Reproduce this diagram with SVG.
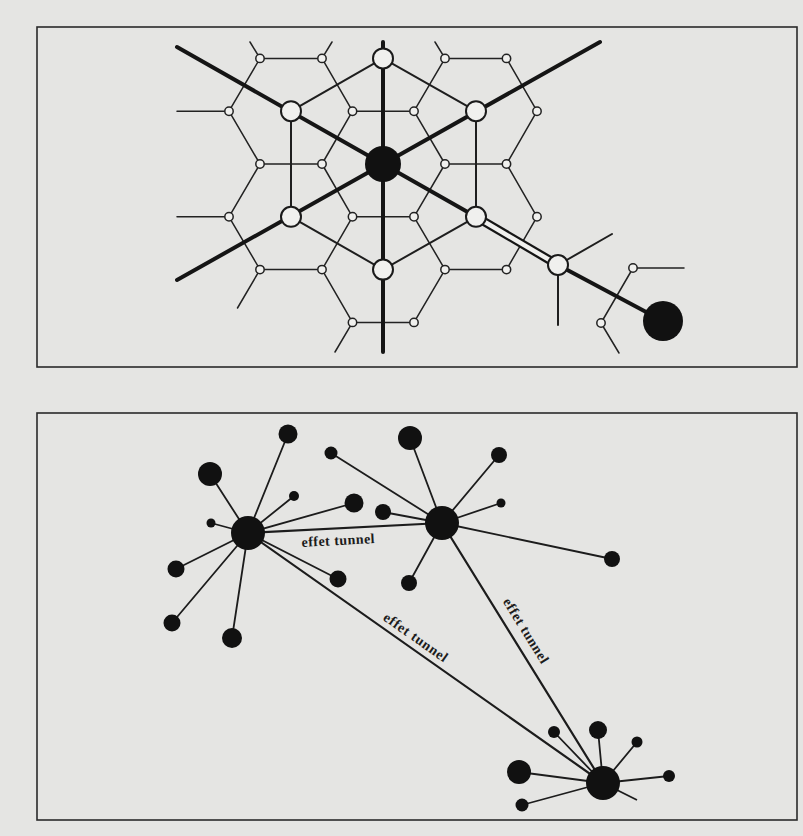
<svg xmlns="http://www.w3.org/2000/svg" width="803" height="836" viewBox="0 0 803 836">
<style>
.bg{fill:#e5e5e3}
.frame{fill:none;stroke:#2a2a2a;stroke-width:1.6}
.thin{stroke:#222;stroke-width:1.5;fill:none;stroke-linecap:round}
.med{stroke:#1e1e1e;stroke-width:2;fill:none;stroke-linecap:round}
.thick{stroke:#151515;stroke-width:4;fill:none;stroke-linecap:round}
.sn{fill:#f0f0ee;stroke:#222;stroke-width:1.5}
.wn{fill:#f0f0ee;stroke:#1a1a1a;stroke-width:2}
.bn{fill:#111}
.ln{stroke:#1c1c1c;stroke-width:1.8;fill:none}
.tn{stroke:#1c1c1c;stroke-width:2.2;fill:none}
.lbl{font-family:"Liberation Serif",serif;font-size:14px;font-weight:bold;fill:#1c1c1c}
</style>
<rect class="bg" x="0" y="0" width="803" height="836"/>
<rect class="frame" x="37" y="27" width="760" height="340"/>
<rect class="frame" x="37" y="413" width="760" height="407"/>

<!-- TOP DIAGRAM -->
<g id="connectors-top">
  <path class="thin" d="M260 58.4H322 M260 58.4L229 111.2 M229 111.2L260 164 M260 164H322 M322 58.4L352.5 111.2 M352.5 111.2L322 164 M352.5 111.2H414 M322 164L352.5 216.8 M260 164L229 216.8 M229 216.8L260 269.6 M260 269.6H322 M322 269.6L352.5 216.8 M322 269.6L352.5 322.4 M352.5 322.4H414 M414 322.4L445 269.6 M445 269.6L414 216.8 M414 216.8H352.5 M445 269.6H506.5 M506.5 269.6L537 216.8 M537 216.8L506.5 164 M506.5 164H445 M445 164L414 216.8 M445 164L414 111.2 M506.5 164L537 111.2 M537 111.2L506.5 58.4 M506.5 58.4H445 M445 58.4L414 111.2"/>
  <path class="thin" d="M229 111.2H177 M229 216.8H177 M260 58.4L250 42 M322 58.4L332 42 M445 58.4L435 42 M260 269.6L237.5 308 M352.5 322.4L335 352"/>
  <path class="med" d="M383 58.4L291 111.2L291 216.8L383 269.6L476 216.8L476 111.2Z"/>
  <path class="med" d="M558 265L612 234 M558 265V325"/>
  <path class="thin" d="M633 268H684 M633 268L601 323 M601 323L619 353"/>
  <path class="thick" d="M177 47L383 164L476 216.8"/>
  <path class="thick" d="M177 280L600 42"/>
  <path class="thick" d="M383 42V352"/>
  <path class="thick" d="M558 265L663 321"/>
  <path d="M476 216.8L558 265" stroke="#151515" stroke-width="9" fill="none"/>
  <path d="M476 216.8L558 265" stroke="#f0f0ee" stroke-width="4.5" fill="none"/>
</g>
<g id="small-nodes-top">
  <circle class="sn" cx="260" cy="58.4" r="4.2"/>
  <circle class="sn" cx="322" cy="58.4" r="4.2"/>
  <circle class="sn" cx="229" cy="111.2" r="4.2"/>
  <circle class="sn" cx="352.5" cy="111.2" r="4.2"/>
  <circle class="sn" cx="260" cy="164" r="4.2"/>
  <circle class="sn" cx="322" cy="164" r="4.2"/>
  <circle class="sn" cx="229" cy="216.8" r="4.2"/>
  <circle class="sn" cx="352.5" cy="216.8" r="4.2"/>
  <circle class="sn" cx="260" cy="269.6" r="4.2"/>
  <circle class="sn" cx="322" cy="269.6" r="4.2"/>
  <circle class="sn" cx="352.5" cy="322.4" r="4.2"/>
  <circle class="sn" cx="414" cy="322.4" r="4.2"/>
  <circle class="sn" cx="414" cy="216.8" r="4.2"/>
  <circle class="sn" cx="445" cy="269.6" r="4.2"/>
  <circle class="sn" cx="506.5" cy="269.6" r="4.2"/>
  <circle class="sn" cx="537" cy="216.8" r="4.2"/>
  <circle class="sn" cx="506.5" cy="164" r="4.2"/>
  <circle class="sn" cx="445" cy="164" r="4.2"/>
  <circle class="sn" cx="537" cy="111.2" r="4.2"/>
  <circle class="sn" cx="506.5" cy="58.4" r="4.2"/>
  <circle class="sn" cx="445" cy="58.4" r="4.2"/>
  <circle class="sn" cx="414" cy="111.2" r="4.2"/>
  <circle class="sn" cx="633" cy="268" r="4.2"/>
  <circle class="sn" cx="601" cy="323" r="4.2"/>
</g>
<g id="n-top"><circle class="wn" cx="383" cy="58.4" r="10"/></g>
<g id="n-ul"><circle class="wn" cx="291" cy="111.2" r="10"/></g>
<g id="n-ll"><circle class="wn" cx="291" cy="216.8" r="10"/></g>
<g id="n-bottom"><circle class="wn" cx="383" cy="269.6" r="10"/></g>
<g id="n-lr"><circle class="wn" cx="476" cy="216.8" r="10"/></g>
<g id="n-ur"><circle class="wn" cx="476" cy="111.2" r="10"/></g>
<g id="n-far"><circle class="wn" cx="558" cy="265" r="10"/></g>
<g id="n-center"><circle class="bn" cx="383" cy="164" r="18"/></g>
<g id="n-black"><circle class="bn" cx="663" cy="321" r="20"/></g>

<!-- BOTTOM DIAGRAM -->
<g id="connectors-bottom">
  <path class="ln" d="M248 533L288 434 M248 533L210 474 M248 533L294 496 M248 533L354 503 M248 533L211 523 M248 533L176 569 M248 533L338 579 M248 533L172 623 M248 533L232 638"/>
  <path class="ln" d="M442 523L410 438 M442 523L331 453 M442 523L499 455 M442 523L501 503 M442 523L383 512 M442 523L612 559 M442 523L409 583"/>
  <path class="ln" d="M603 783L554 732 M603 783L598 730 M603 783L637 742 M603 783L519 772 M603 783L522 805 M603 783L669 776 M603 783L637 800"/>
  <path class="tn" d="M248 533L442 523 M248 533L603 783 M442 523L603 783"/>
</g>
<g id="labels">
  <text class="lbl" x="338" y="545" text-anchor="middle" textLength="73" lengthAdjust="spacing" transform="rotate(-3 338 540)">effet tunnel</text>
  <text class="lbl" x="0" y="0" text-anchor="middle" textLength="75" lengthAdjust="spacing" transform="translate(413 641) rotate(35.2)">effet tunnel</text>
  <text class="lbl" x="0" y="0" text-anchor="middle" textLength="74" lengthAdjust="spacing" transform="translate(522 633) rotate(58.2)">effet tunnel</text>
</g>
<g id="hub-a"><circle class="bn" cx="248" cy="533" r="17"/></g>
<g id="a-sat">
  <circle class="bn" cx="288" cy="434" r="9.5"/>
  <circle class="bn" cx="210" cy="474" r="12"/>
  <circle class="bn" cx="294" cy="496" r="5"/>
  <circle class="bn" cx="354" cy="503" r="9.5"/>
  <circle class="bn" cx="211" cy="523" r="4.5"/>
  <circle class="bn" cx="176" cy="569" r="8.5"/>
  <circle class="bn" cx="338" cy="579" r="8.5"/>
  <circle class="bn" cx="172" cy="623" r="8.5"/>
  <circle class="bn" cx="232" cy="638" r="10"/>
</g>
<g id="hub-b"><circle class="bn" cx="442" cy="523" r="17"/></g>
<g id="b-sat">
  <circle class="bn" cx="410" cy="438" r="12"/>
  <circle class="bn" cx="331" cy="453" r="6.5"/>
  <circle class="bn" cx="499" cy="455" r="8"/>
  <circle class="bn" cx="501" cy="503" r="4.5"/>
  <circle class="bn" cx="383" cy="512" r="8"/>
  <circle class="bn" cx="612" cy="559" r="8"/>
  <circle class="bn" cx="409" cy="583" r="8"/>
</g>
<g id="hub-c"><circle class="bn" cx="603" cy="783" r="17"/></g>
<g id="c-sat">
  <circle class="bn" cx="554" cy="732" r="6"/>
  <circle class="bn" cx="598" cy="730" r="9"/>
  <circle class="bn" cx="637" cy="742" r="5.5"/>
  <circle class="bn" cx="519" cy="772" r="12"/>
  <circle class="bn" cx="522" cy="805" r="6.5"/>
  <circle class="bn" cx="669" cy="776" r="6"/>
</g>
</svg>
